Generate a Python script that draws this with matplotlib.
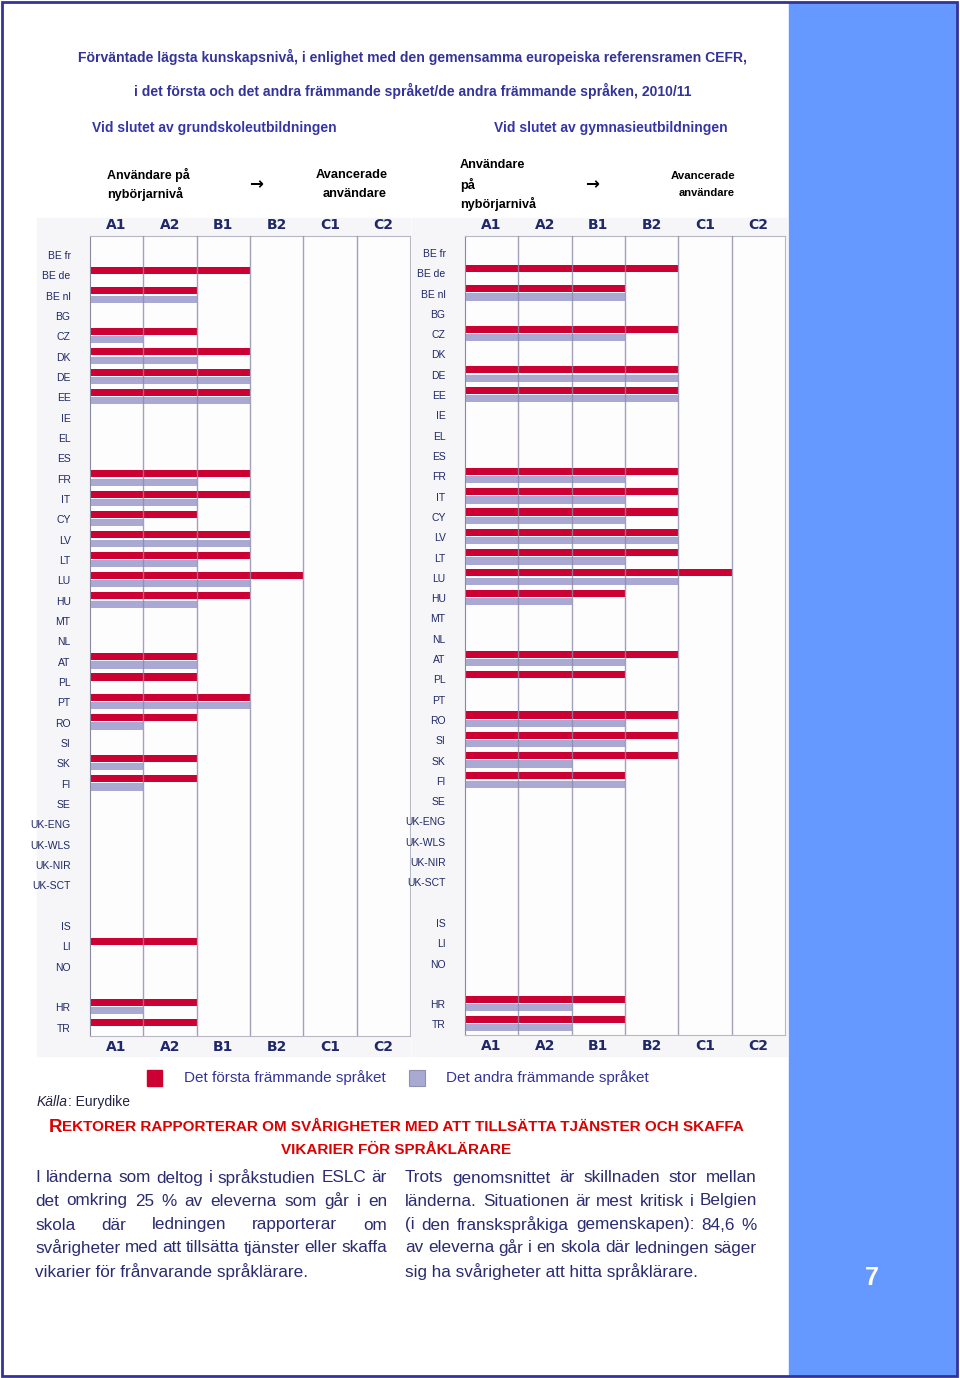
import matplotlib
matplotlib.use('Agg')
import matplotlib.pyplot as plt
from matplotlib.patches import Rectangle
import numpy as np

# country rows, '' = spacer row
countries = ['BE fr', 'BE de', 'BE nl', 'BG', 'CZ', 'DK', 'DE', 'EE', 'IE', 'EL', 'ES',
             'FR', 'IT', 'CY', 'LV', 'LT', 'LU', 'HU', 'MT', 'NL', 'AT', 'PL', 'PT',
             'RO', 'SI', 'SK', 'FI', 'SE', 'UK-ENG', 'UK-WLS', 'UK-NIR', 'UK-SCT', '',
             'IS', 'LI', 'NO', '', 'HR', 'TR']
levels = ['A1', 'A2', 'B1', 'B2', 'C1', 'C2']

# 0 = no level given, 1 = A1 ... 6 = C2
primary_first = [0, 3, 2, 0, 2, 3, 3, 3, 0, 0, 0, 3, 3, 2, 3, 3, 4, 3, 0, 0, 2, 2, 3,
                 2, 0, 2, 2, 0, 0, 0, 0, 0, 0, 0, 2, 0, 0, 2, 2]
primary_second = [0, 0, 2, 0, 1, 2, 3, 3, 0, 0, 0, 2, 2, 1, 3, 2, 3, 2, 0, 0, 2, 0, 3,
                  1, 0, 1, 1, 0, 0, 0, 0, 0, 0, 0, 0, 0, 0, 1, 0]
upper_first = [0, 4, 3, 0, 4, 0, 4, 4, 0, 0, 0, 4, 4, 4, 4, 4, 5, 3, 0, 0, 4, 3, 0,
               4, 4, 4, 3, 0, 0, 0, 0, 0, 0, 0, 0, 0, 0, 3, 3]
upper_second = [0, 0, 3, 0, 3, 0, 4, 4, 0, 0, 0, 3, 3, 3, 4, 3, 4, 2, 0, 0, 3, 0, 0,
                3, 3, 2, 3, 0, 0, 0, 0, 0, 0, 0, 0, 0, 0, 2, 2]

RED = '#cc0033'
LAV = '#a9a9d4'
NAVY = '#1f2868'
W, H = 960, 1378

plt.rcParams['font.family'] = ['Liberation Sans', 'DejaVu Sans']
fig = plt.figure(figsize=(W / 100, H / 100), dpi=100)
fig.patch.set_facecolor('white')
renderer = fig.canvas.get_renderer()


def fx(x):
    return x / W


def fy(y):
    return 1 - y / H


def ptext(x, y, s, **kw):
    kw.setdefault('va', 'center')
    return fig.text(fx(x), fy(y), s, **kw)


def fit(x, y, s, width, **kw):
    # narrow fonts are missing, so shrink the text to the width it has in the page
    t = ptext(x, y, s, **kw)
    w = t.get_window_extent(renderer).width
    t.set_fontsize(t.get_fontsize() * width / w)
    return t


def place_words(parts, y, x0=None, x1=None, center=None, justify=False):
    texts = [ptext(0, y, s, **kw) for s, kw in parts]
    widths = [t.get_window_extent(renderer).width for t in texts]
    gap = 0
    if justify and len(texts) > 1:
        gap = (x1 - x0 - sum(widths)) / (len(texts) - 1)
    x = center - sum(widths) / 2 if center is not None else x0
    for t, w in zip(texts, widths):
        t.set_position((fx(x), fy(y)))
        x += w + gap


def rect(x0, y0, x1, y1, **kw):
    fig.patches.append(Rectangle((fx(x0), fy(y1)), fx(x1) - fx(x0), fy(y0) - fy(y1),
                                 transform=fig.transFigure, **kw))


# page frame, blue side bar, light panel backgrounds
rect(789, 3, 956, 1375, color='#6699ff', zorder=-2)
rect(2, 2, 957, 1376, fill=False, ec='#333399', lw=2, zorder=5)
rect(37, 218, 410, 1056, color='#f6f6f8', zorder=-2)
rect(412, 218, 787, 1056, color='#f6f6f8', zorder=-2)


def panel(x0, x1, y0, y1, row0, step, first, second):
    ax = fig.add_axes([fx(x0), fy(y1), fx(x1) - fx(x0), fy(y0) - fy(y1)])
    ax.set_zorder(1)
    ax.set_facecolor('#fdfdfe')
    ypos = np.arange(len(countries))
    ax.barh(ypos - 0.24, first, height=0.35, color=RED, zorder=2)
    ax.barh(ypos + 0.17, second, height=0.35, color=LAV, zorder=2)
    for g in range(1, 6):
        ax.axvline(g, color='#8a8aa8', lw=1, alpha=0.8, zorder=3)
    ax.set_xlim(0, 6)
    ax.set_ylim((y1 - row0) / step, (y0 - row0) / step)
    ax.set_yticks(ypos)
    ax.set_yticklabels(countries, fontsize=7.5, color=NAVY)
    ax.set_xticks(np.arange(6) + 0.5)
    ax.set_xticklabels(levels, fontsize=10, fontweight='bold', color=NAVY,
                       family='DejaVu Sans')
    ax.tick_params(axis='y', length=0, pad=14)
    ax.tick_params(axis='x', length=0, pad=3, labeltop=True, labelbottom=True)
    ax.spines['left'].set_color('#8888a0')
    for s in ['top', 'bottom', 'right']:
        ax.spines[s].set_color('#b8b8c4')
    return ax


panel(90, 410, 236, 1036, 255, 20.33, primary_first, primary_second)
panel(465, 785, 236, 1035, 253, 20.3, upper_first, upper_second)

# titles
fit(413, 57, 'Förväntade lägsta kunskapsnivå, i enlighet med den gemensamma europeiska referensramen CEFR,',
    666, ha='center', fontsize=12, fontweight='bold', color='#333399')
fit(413, 91, 'i det första och det andra främmande språket/de andra främmande språken, 2010/11',
    556, ha='center', fontsize=12, fontweight='bold', color='#333399')
ptext(92, 128, 'Vid slutet av grundskoleutbildningen', fontsize=10, fontweight='bold',
      color='#3535a8')
ptext(494, 128, 'Vid slutet av gymnasieutbildningen', fontsize=10, fontweight='bold',
      color='#3535a8')

hdr = dict(fontweight='bold', color='black', fontsize=11)
fit(107, 175, 'Användare på', 83, **hdr)
fit(107, 194, 'nybörjarnivå', 76, **hdr)
ptext(256, 184, '→', fontsize=12, fontweight='bold', ha='center', family='DejaVu Sans')
fit(352, 175, 'Avancerade', 72, ha='center', **hdr)
fit(355, 194, 'användare', 64, ha='center', **hdr)
fit(460, 165, 'Användare', 65, **hdr)
fit(460, 185, 'på', 15, **hdr)
fit(460, 204, 'nybörjarnivå', 76, **hdr)
ptext(592, 184, '→', fontsize=12, fontweight='bold', ha='center', family='DejaVu Sans')
fit(703, 176, 'Avancerade', 64, ha='center', **hdr)
fit(707, 193, 'användare', 56, ha='center', **hdr)

# legend
rect(147, 1070, 162, 1086, color=RED)
rect(409, 1070, 425, 1086, fc=LAV, ec='#9090b0', lw=0.8)
ptext(184, 1078, 'Det första främmande språket', fontsize=11, color='#333399')
ptext(446, 1078, 'Det andra främmande språket', fontsize=11, color='#333399')

# source line
place_words([('Källa', dict(fontsize=10, color='#222244', style='italic')),
             (': Eurydike', dict(fontsize=10, color='#222244'))],
            1102, x0=37)

# red heading, small caps start
big = dict(fontsize=13.5, fontweight='bold', color='#dd0000')
small = dict(fontsize=11, fontweight='bold', color='#dd0000')
place_words([('R', big),
             ('EKTORER RAPPORTERAR OM SVÅRIGHETER MED ATT TILLSÄTTA TJÄNSTER OCH SKAFFA', small)],
            1127, center=396)
place_words([('VIKARIER FÖR SPRÅKLÄRARE', small)], 1150, center=396)

body_left = ['I länderna som deltog i språkstudien ESLC är',
             'det omkring 25 % av eleverna som går i en',
             'skola där ledningen rapporterar om',
             'svårigheter med att tillsätta tjänster eller skaffa',
             'vikarier för frånvarande språklärare.']
body_right = ['Trots genomsnittet är skillnaden stor mellan',
              'länderna. Situationen är mest kritisk i Belgien',
              '(i den franskspråkiga gemenskapen): 84,6 %',
              'av eleverna går i en skola där ledningen säger',
              'sig ha svårigheter att hitta språklärare.']
body_kw = dict(fontsize=12.3, color='#2b2b70')
line_y = [1178, 1201, 1225, 1248, 1272]
for lines, x0, x1 in [(body_left, 35, 387), (body_right, 405, 757)]:
    for i, (line, y) in enumerate(zip(lines, line_y)):
        if i < len(lines) - 1:
            place_words([(w, body_kw) for w in line.split(' ')], y, x0=x0, x1=x1, justify=True)
        else:
            place_words([(line, body_kw)], y, x0=x0)

ptext(872, 1278, '7', fontsize=18, fontweight='bold', color='white', ha='center')

fig.savefig('out.png', dpi=100, facecolor='white')
